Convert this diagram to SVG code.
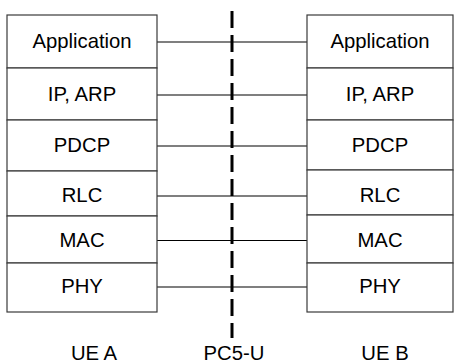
<svg xmlns="http://www.w3.org/2000/svg" width="454" height="363" viewBox="0 0 454 363">
<style>
.box{fill:#fff;stroke:#3a3a3a;stroke-width:1.2}
.t{font-family:"Liberation Sans",Arial,sans-serif;font-size:20.3px;fill:#000;text-anchor:middle}
.c{stroke:#000;stroke-width:1.2;fill:none}
.pc5{stroke:#000;stroke-width:3;stroke-dasharray:17 7;fill:none}
</style>
<rect width="454" height="363" fill="#fff"/>
<g id="connectors">
<line class="c" x1="157" y1="42" x2="307" y2="42"/>
<line class="c" x1="157" y1="95" x2="307" y2="95"/>
<line class="c" x1="157" y1="146" x2="307" y2="146"/>
<line class="c" x1="157" y1="196" x2="307" y2="196"/>
<line class="c" x1="157" y1="240.5" x2="307" y2="240.5"/>
<line class="c" x1="157" y1="287" x2="307" y2="287"/>
<line class="pc5" x1="232" y1="11" x2="232" y2="338"/>
</g>
<g id="ue-a">
<g id="a-app"><rect class="box" x="7" y="15" width="150" height="53"/><text class="t" x="82" y="48">Application</text></g>
<g id="a-ip"><rect class="box" x="7" y="68" width="150" height="52"/><text class="t" x="82" y="101">IP, ARP</text></g>
<g id="a-pdcp"><rect class="box" x="7" y="120" width="150" height="51"/><text class="t" x="82" y="152">PDCP</text></g>
<g id="a-rlc"><rect class="box" x="7" y="171" width="150" height="45"/><text class="t" x="82" y="202">RLC</text></g>
<g id="a-mac"><rect class="box" x="7" y="216" width="150" height="47"/><text class="t" x="82" y="247">MAC</text></g>
<g id="a-phy"><rect class="box" x="7" y="263" width="150" height="49"/><text class="t" x="82" y="293">PHY</text></g>
</g>
<g id="ue-b">
<g id="b-app"><rect class="box" x="307" y="15" width="146" height="53"/><text class="t" x="380" y="48">Application</text></g>
<g id="b-ip"><rect class="box" x="307" y="68" width="146" height="52"/><text class="t" x="380" y="101">IP, ARP</text></g>
<g id="b-pdcp"><rect class="box" x="307" y="120" width="146" height="50"/><text class="t" x="380" y="152">PDCP</text></g>
<g id="b-rlc"><rect class="box" x="307" y="170" width="146" height="45"/><text class="t" x="380" y="202">RLC</text></g>
<g id="b-mac"><rect class="box" x="307" y="215" width="146" height="48"/><text class="t" x="380" y="247">MAC</text></g>
<g id="b-phy"><rect class="box" x="307" y="263" width="146" height="49"/><text class="t" x="380" y="293">PHY</text></g>
</g>
<g id="labels">
<text class="t" x="94" y="360">UE A</text>
<text class="t" x="234" y="360">PC5-U</text>
<text class="t" x="385" y="360">UE B</text>
</g>
</svg>
